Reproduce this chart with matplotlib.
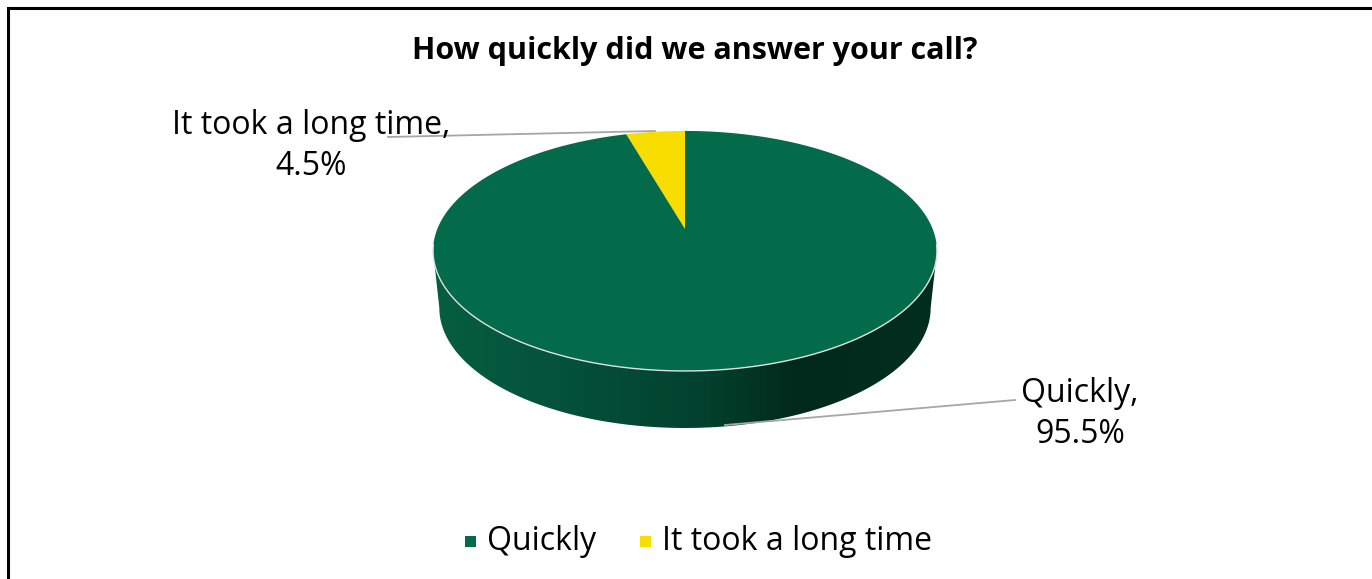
import numpy as np
import matplotlib
matplotlib.use("Agg")
import matplotlib.pyplot as plt
from matplotlib.patches import Polygon, Rectangle
from matplotlib.colors import LinearSegmentedColormap

# data
categories = ["Quickly", "It took a long time"]
shares = [95.5, 4.5]
pct_labels = ["95.5%", "4.5%"]
colors = ["#036a4a", "#f7de00"]
title = "How quickly did we answer your call?"

plt.rcParams["font.family"] = ["Open Sans", "DejaVu Sans"]

W, H = 1372, 579
fig = plt.figure(figsize=(W / 100, H / 100), dpi=100)
ax = fig.add_axes([0, 0, 1, 1])
ax.set_xlim(0, W)
ax.set_ylim(H, 0)
ax.axis("off")

# 3D pie geometry (pixel space), perspective circle -> screen
cx, cy = 685, 229          # projected centre of the top face
k = 0.183                  # perspective strength
b = 116.0                  # vertical radius factor
a = 247.7                  # horizontal radius factor
depth = 57
shrink = 0.975             # bottom face slightly narrower


def proj(theta, dy=0.0, sx=1.0):
    u, v = np.cos(theta), np.sin(theta)
    den = 1 + k * v
    x = cx + sx * a * u / den
    y = cy - b * v / den + dy
    return x, y


# side wall
t0 = np.pi + np.arcsin(k)
t1 = 2 * np.pi - np.arcsin(k)
ts = np.linspace(t0, t1, 300)
xt, yt = proj(ts)
xb, yb = proj(ts[::-1], dy=depth, sx=shrink)
side_xy = np.column_stack([np.concatenate([xt, xb]), np.concatenate([yt, yb])])
side = Polygon(side_xy, closed=True, facecolor="none", edgecolor="none")
ax.add_patch(side)
side_cmap = LinearSegmentedColormap.from_list(
    "side", [(0.0, "#065e40"), (0.25, "#04523a"), (0.55, "#02402c"),
             (0.72, "#01291b"), (1.0, "#012e20")])
grad = np.linspace(0, 1, 256).reshape(1, -1)
img = ax.imshow(grad, cmap=side_cmap, aspect="auto",
                extent=[xt.min(), xt.max(), yb.max(), yt.min()], zorder=1)
img.set_clip_path(side)

# top face wedges: start at 12 o'clock, small slice counter-clockwise
start = np.pi / 2
fracs = np.array(shares[::-1]) / sum(shares)   # yellow first going ccw
wedge_colors = colors[::-1]
ang = start
for frac, col in zip(fracs, wedge_colors):
    th = np.linspace(ang, ang + frac * 2 * np.pi, 400)
    x, y = proj(th)
    xy = np.column_stack([np.concatenate([[cx], x]), np.concatenate([[cy], y])])
    ax.add_patch(Polygon(xy, closed=True, facecolor=col, edgecolor="none", zorder=2))
    ang += frac * 2 * np.pi

# light rim on front edge of top face
tr = np.linspace(np.pi + np.arcsin(k) - 0.05, 2 * np.pi - np.arcsin(k) + 0.05, 300)
xr, yr = proj(tr)
ax.plot(xr, yr, color="#e0e0e0", lw=1.0, zorder=3)

# title
ax.text(695, 51, title, ha="center", va="center", fontsize=22,
        fontweight="bold", color="#000000")

# data labels with leader lines
lead = "#a6a6a6"
fs = 23
ax.plot([388, 655], [137, 131], color=lead, lw=1.3, zorder=1)
ax.text(311, 146, f"{categories[1]},\n{pct_labels[1]}", ha="center", va="center",
        fontsize=fs, linespacing=1.3, color="#000000", zorder=5)
ax.plot([1015, 725], [400, 425], color=lead, lw=1.3, zorder=4)
ax.text(1080, 414, f"{categories[0]},\n{pct_labels[0]}", ha="center", va="center",
        fontsize=fs, linespacing=1.3, color="#000000")

# legend
leg_x = [470, 645]
for lx, lab, col in zip(leg_x, categories, colors):
    ax.add_patch(Rectangle((lx - 5, 536), 11, 11, facecolor=col, edgecolor="none"))
    ax.text(lx + 17, 541, lab, ha="left", va="center", fontsize=fs, color="#000000")

# chart border (left and top)
ax.plot([8, 8, W], [H, 8, 8], color="#000000", lw=2.2, solid_capstyle="butt",
        solid_joinstyle="miter")

fig.savefig("out.png", dpi=100, facecolor="white")
